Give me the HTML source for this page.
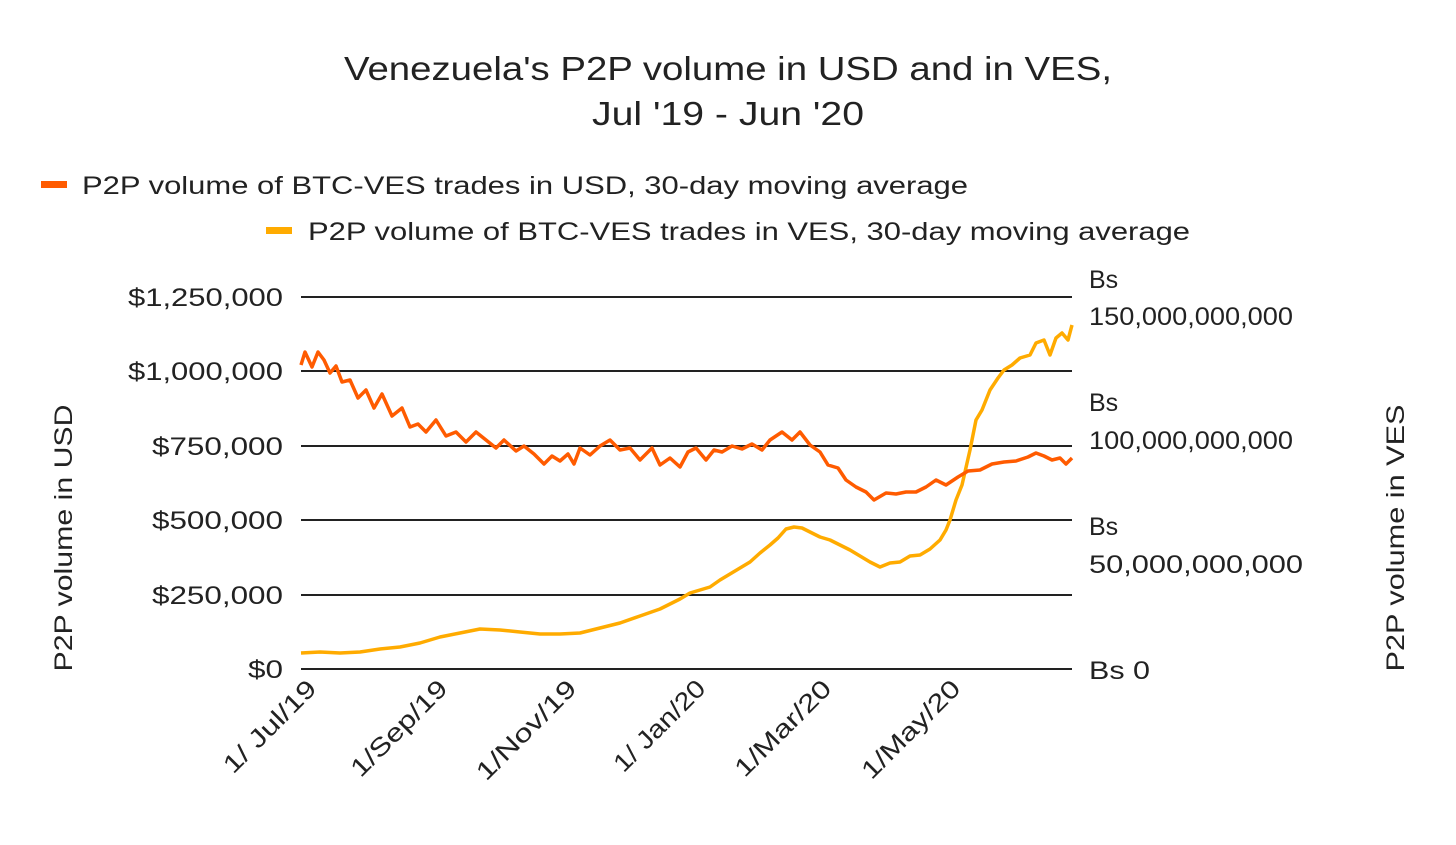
<!DOCTYPE html>
<html><head><style>
body{margin:0;background:#fff;}
svg text{font-family:"Liberation Sans",sans-serif;fill:#222;}
</style></head><body>
<svg width="1456" height="840" xmlns="http://www.w3.org/2000/svg">
<text x="344" y="80" font-size="33" textLength="768" lengthAdjust="spacingAndGlyphs">Venezuela's P2P volume in USD and in VES,</text>
<text x="592" y="125" font-size="33" textLength="272" lengthAdjust="spacingAndGlyphs">Jul '19 - Jun '20</text>
<rect x="41" y="181" width="26" height="7" fill="#ff5b00"/>
<text x="82" y="194" font-size="25" textLength="886" lengthAdjust="spacingAndGlyphs">P2P volume of BTC-VES trades in USD, 30-day moving average</text>
<rect x="266" y="227" width="26" height="7" fill="#ffab00"/>
<text x="308" y="240" font-size="25" textLength="882" lengthAdjust="spacingAndGlyphs">P2P volume of BTC-VES trades in VES, 30-day moving average</text>
<g stroke="#222" stroke-width="2">
<line x1="301" x2="1072" y1="297" y2="297"/><line x1="301" x2="1072" y1="371" y2="371"/>
<line x1="301" x2="1072" y1="446" y2="446"/><line x1="301" x2="1072" y1="520" y2="520"/>
<line x1="301" x2="1072" y1="595" y2="595"/><line x1="301" x2="1072" y1="669" y2="669"/>
</g>
<g font-size="25">
<text x="128" y="306" textLength="155" lengthAdjust="spacingAndGlyphs">$1,250,000</text><text x="128" y="380" textLength="155" lengthAdjust="spacingAndGlyphs">$1,000,000</text>
<text x="152" y="455" textLength="131" lengthAdjust="spacingAndGlyphs">$750,000</text><text x="152" y="529" textLength="131" lengthAdjust="spacingAndGlyphs">$500,000</text>
<text x="152" y="604" textLength="131" lengthAdjust="spacingAndGlyphs">$250,000</text><text x="248" y="678" textLength="35" lengthAdjust="spacingAndGlyphs">$0</text>
</g>
<g font-size="25">
<text x="1089" y="288">Bs</text><text x="1089" y="325" textLength="204" lengthAdjust="spacingAndGlyphs">150,000,000,000</text>
<text x="1089" y="411">Bs</text><text x="1089" y="449" textLength="204" lengthAdjust="spacingAndGlyphs">100,000,000,000</text>
<text x="1089" y="535">Bs</text><text x="1089" y="573" textLength="214" lengthAdjust="spacingAndGlyphs">50,000,000,000</text>
<text x="1089" y="679" textLength="61" lengthAdjust="spacingAndGlyphs">Bs 0</text>
</g>
<text font-size="25" text-anchor="middle" textLength="267" lengthAdjust="spacingAndGlyphs" transform="translate(72,538) rotate(-90)">P2P volume in USD</text>
<text font-size="25" text-anchor="middle" textLength="267" lengthAdjust="spacingAndGlyphs" transform="translate(1404,538) rotate(-90)">P2P volume in VES</text>
<g font-size="25" text-anchor="end">
<text transform="translate(318,690) rotate(-45)" textLength="120" lengthAdjust="spacingAndGlyphs">1/ Jul/19</text>
<text transform="translate(449,690) rotate(-45)" textLength="125" lengthAdjust="spacingAndGlyphs">1/Sep/19</text>
<text transform="translate(578,690) rotate(-45)" textLength="130" lengthAdjust="spacingAndGlyphs">1/Nov/19</text>
<text transform="translate(707,690) rotate(-45)" textLength="118" lengthAdjust="spacingAndGlyphs">1/ Jan/20</text>
<text transform="translate(833,690) rotate(-45)" textLength="125" lengthAdjust="spacingAndGlyphs">1/Mar/20</text>
<text transform="translate(962,690) rotate(-45)" textLength="128" lengthAdjust="spacingAndGlyphs">1/May/20</text>
</g>
<polyline fill="none" stroke="#ffab00" stroke-width="3.5" stroke-linejoin="round" points="301,653 320,652 340,653 360,652 380,649 400,647 420,643 440,637 460,633 480,629 500,630 520,632 540,634 560,634 580,633 600,628 620,623 640,616 660,609 680,599 690,593 700,590 710,587 720,580 730,574 740,568 750,562 760,553 770,545 778,538 786,529 794,527 802,528 810,532 820,537 830,540 840,545 850,550 860,556 870,562 880,567 890,563 900,562 910,556 920,555 930,549 940,540 946,530 950,520 956,500 962,485 970,450 976,420 982,410 990,390 998,378 1004,370 1012,365 1020,358 1030,355 1036,343 1044,340 1050,355 1056,338 1062,333 1068,340 1072,325"/>
<polyline fill="none" stroke="#ff5b00" stroke-width="3.5" stroke-linejoin="round" points="301,365 305,352 312,367 318,352 324,360 330,373 336,366 342,382 350,380 358,398 366,390 374,408 382,394 392,416 402,408 410,427 418,424 426,432 436,420 446,436 456,432 466,442 476,432 486,440 496,448 504,440 516,451 524,446 534,454 544,464 552,456 560,461 568,454 574,464 580,448 590,455 600,446 610,440 620,450 630,448 640,460 652,448 660,465 670,458 680,467 688,452 696,448 706,460 714,450 722,452 732,446 742,449 752,444 762,450 770,440 782,432 792,440 800,432 810,445 820,452 828,465 838,468 846,480 856,487 866,492 874,500 886,493 896,494 906,492 916,492 926,487 936,480 946,485 958,477 968,471 980,470 992,464 1004,462 1016,461 1028,457 1036,453 1044,456 1052,460 1060,458 1066,464 1072,458"/>
</svg>
</body></html>
